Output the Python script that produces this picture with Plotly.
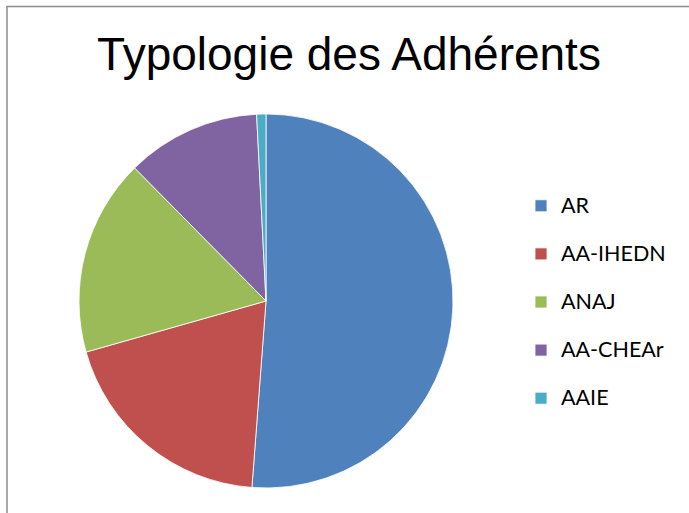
import plotly.graph_objects as go

categories = ["AR", "AA-IHEDN", "ANAJ", "AA-CHEAr", "AAIE"]
values = [51.2, 19.4, 17.0, 11.6, 0.8]
colors = ["#4F81BD", "#C0504D", "#9BBB59", "#8064A2", "#4BACC6"]

W, H = 689, 513
cx, cy, r = 266, 301, 187

legend_labels = [f"<span style='font-size:21.5px'>{c}</span><br> " for c in categories]

fig = go.Figure(go.Pie(
    labels=legend_labels,
    values=values,
    sort=False,
    direction="clockwise",
    rotation=0,
    textinfo="none",
    marker=dict(colors=colors, line=dict(color="white", width=0.8)),
    domain=dict(x=[(cx - r) / W, (cx + r) / W], y=[(H - cy - r) / H, (H - cy + r) / H]),
    hovertext=categories,
    hoverinfo="text+percent",
))

fig.update_layout(
    width=W, height=H,
    margin=dict(l=0, r=0, t=0, b=0),
    paper_bgcolor="white",
    title=dict(text="Typologie des Adhérents", x=349 / W, xanchor="center",
               y=1 - 54 / H, yanchor="middle", yref="container",
               font=dict(family="Liberation Sans, Arial", size=46, color="black")),
    legend=dict(x=521 / W, xanchor="left", y=1 - 188 / H, yanchor="top",
                font=dict(family="Lato", size=17.35, color="black"),
                valign="top", bgcolor="rgba(0,0,0,0)"),
    shapes=[dict(type="rect", xref="paper", yref="paper",
                 x0=7 / W, x1=1.05, y0=-0.05, y1=1 - 6.5 / H,
                 line=dict(color="#8C8C8C", width=1.5))],
)

fig.write_html("out.html", config={"displayModeBar": False},
               post_script="document.body.style.margin='0';document.body.style.overflow='hidden';")
